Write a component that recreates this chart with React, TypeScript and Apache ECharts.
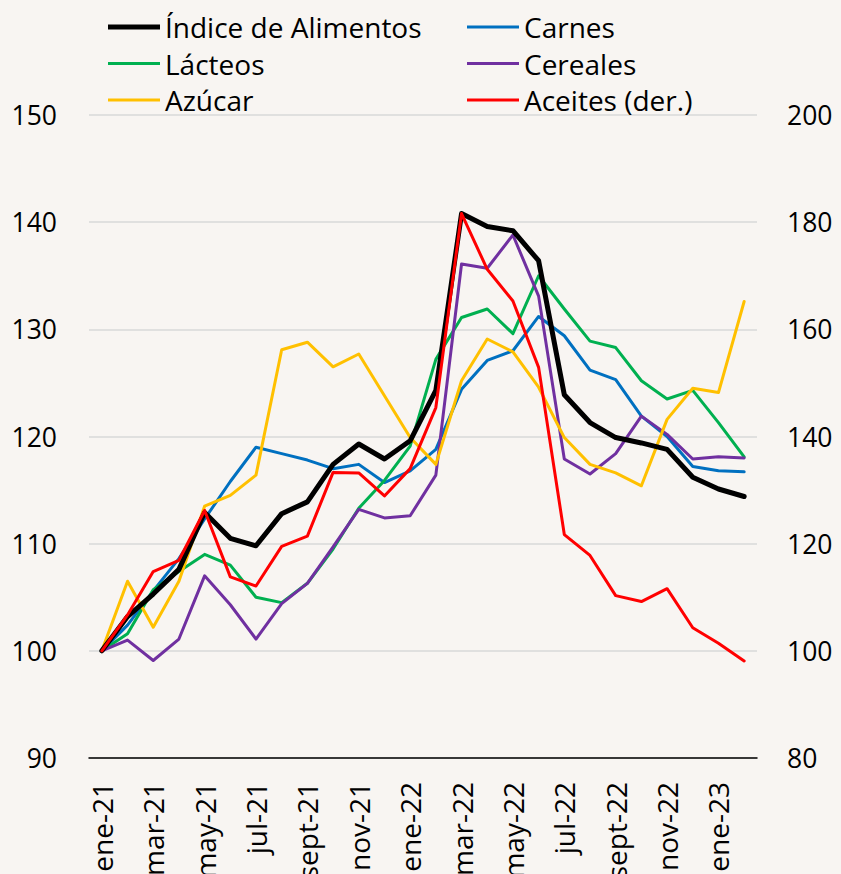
import React, { useEffect, useRef } from "react";
import * as echarts from "echarts";

const months = [
  "ene-21", "feb-21", "mar-21", "abr-21", "may-21", "jun-21", "jul-21", "ago-21", "sept-21", "oct-21", "nov-21", "dic-21",
  "ene-22", "feb-22", "mar-22", "abr-22", "may-22", "jun-22", "jul-22", "ago-22", "sept-22", "oct-22", "nov-22", "dic-22",
  "ene-23", "feb-23",
];

const indice = [100, 103.2, 105.3, 107.6, 112.9, 110.5, 109.8, 112.8, 113.9, 117.4, 119.3, 117.9, 119.6, 124.3, 140.8, 139.6, 139.2, 136.4, 123.9, 121.3, 119.9, 119.4, 118.8, 116.2, 115.1, 114.4];
const carnes = [100, 102.4, 105.6, 108.6, 112.3, 115.8, 119.0, 118.4, 117.8, 117.0, 117.4, 115.7, 116.8, 118.8, 124.4, 127.1, 128.0, 131.2, 129.4, 126.2, 125.3, 121.9, 120.0, 117.2, 116.8, 116.7];
const lacteos = [100, 101.6, 105.7, 107.4, 109.0, 108.0, 105.0, 104.5, 106.3, 109.5, 113.3, 115.9, 119.1, 127.2, 131.1, 131.9, 129.6, 135.0, 131.9, 128.9, 128.3, 125.2, 123.5, 124.3, 121.3, 118.1];
const cereales = [100, 101.0, 99.1, 101.1, 107.0, 104.3, 101.1, 104.4, 106.3, 109.7, 113.2, 112.4, 112.6, 116.4, 136.1, 135.7, 138.8, 133.1, 117.9, 116.5, 118.4, 121.9, 120.2, 117.9, 118.1, 118.0];
const azucar = [100, 106.5, 102.2, 106.5, 113.5, 114.5, 116.4, 128.1, 128.8, 126.5, 127.7, 123.8, 119.9, 117.4, 125.2, 129.1, 127.9, 124.6, 119.9, 117.4, 116.6, 115.4, 121.6, 124.5, 124.1, 132.6];
const aceites = [100, 106.7, 114.8, 116.9, 126.2, 113.8, 112.1, 119.5, 121.4, 133.3, 133.2, 128.9, 134.0, 145.4, 181.6, 171.2, 165.3, 152.9, 121.7, 117.8, 110.3, 109.2, 111.6, 104.3, 101.4, 98.1];

const FONT = "'Open Sans', 'Noto Sans', sans-serif";
const BG = "#f8f5f2";
const THICK = "path://M0,0H52V5H0Z";
const THIN = "path://M0,0H52V3H0Z";

export default function App() {
  const ref = useRef<HTMLDivElement>(null);
  useEffect(() => {
    document.body.style.margin = "0";
    document.body.style.background = BG;
    if (!ref.current) return;
    const chart = echarts.init(ref.current, undefined, { renderer: "svg" });
    const mk = (name: string, data: number[], color: string, width: number, yIdx = 0, z = 2) => ({
      name,
      type: "line",
      data,
      yAxisIndex: yIdx,
      symbol: "none",
      z,
      lineStyle: { color, width, join: "round", cap: "round" },
      itemStyle: { color },
    });
    const legendCommon = {
      orient: "vertical",
      top: 12,
      padding: 0,
      itemWidth: 52,
      itemHeight: 5,
      itemGap: 6.5,
      textStyle: { fontFamily: FONT, fontSize: 28, color: "#000", lineHeight: 30 },
    };
    chart.setOption({
      animation: false,
      backgroundColor: BG,
      textStyle: { fontFamily: FONT },
      legend: [
        {
          ...legendCommon,
          left: 108,
          data: [
            { name: "Índice de Alimentos", icon: THICK },
            { name: "Lácteos", icon: THIN },
            { name: "Azúcar", icon: THIN },
          ],
        },
        {
          ...legendCommon,
          left: 467,
          data: [
            { name: "Carnes", icon: THIN },
            { name: "Cereales", icon: THIN },
            { name: "Aceites (der.)", icon: THIN },
          ],
        },
      ],
      grid: { left: 89, right: 84, top: 115, bottom: 116, containLabel: false, outerBoundsMode: "none" },
      xAxis: {
        type: "category",
        data: months,
        boundaryGap: true,
        axisLine: { show: true, lineStyle: { color: "#000", width: 1.5 } },
        axisTick: { show: false },
        axisLabel: {
          interval: 1,
          rotate: 90,
          fontSize: 28,
          fontFamily: FONT,
          color: "#000",
          margin: 24,
        },
      },
      yAxis: [
        {
          type: "value",
          min: 90,
          max: 150,
          interval: 10,
          axisLine: { show: false },
          axisTick: { show: false },
          splitLine: { lineStyle: { color: "#d9d9d9", width: 1.5 } },
          axisLabel: { fontSize: 26.5, fontFamily: FONT, color: "#000", margin: 32 },
        },
        {
          type: "value",
          min: 80,
          max: 200,
          interval: 20,
          position: "right",
          axisLine: { show: false },
          axisTick: { show: false },
          splitLine: { show: false },
          axisLabel: { fontSize: 26.5, fontFamily: FONT, color: "#000", margin: 30 },
        },
      ],
      series: [
        mk("Índice de Alimentos", indice, "#000000", 5, 0, 3),
        mk("Carnes", carnes, "#0070c0", 3),
        mk("Lácteos", lacteos, "#00b050", 3),
        mk("Cereales", cereales, "#7030a0", 3),
        mk("Azúcar", azucar, "#ffc000", 3),
        mk("Aceites (der.)", aceites, "#ff0000", 3, 1, 4),
      ],
    });
    return () => chart.dispose();
  }, []);
  return <div ref={ref} style={{ width: 841, height: 874, background: BG }} />;
}
